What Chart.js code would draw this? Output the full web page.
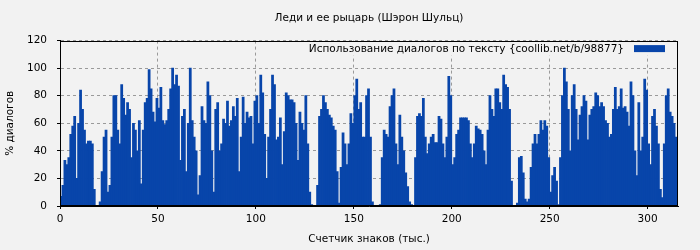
<!DOCTYPE html>
<html>
<head>
    <meta charset="utf-8">
    <title>Леди и ее рыцарь (Шэрон Шульц)</title>
    <script src="https://cdn.jsdelivr.net/npm/chart.js"></script>
    <style>
        body { margin: 0; background: #f2f2f2; }
    </style>
</head>
<body>
    <canvas id="dialogChart" width="700" height="250"></canvas>
    <script>
    // % of dialogue in each block of 1000 characters
    const dialogPct = [
        7, 15, 33, 30, 35, 52, 58, 65, 20, 60, 84, 70, 55, 45, 47, 47, 45, 12, 0, 0,
        3, 25, 50, 55, 10, 15, 50, 80, 80, 55, 45, 88, 78, 66, 75, 70, 35, 60, 55, 40,
        62, 16, 55, 75, 78, 99, 85, 68, 61, 78, 71, 86, 62, 59, 62, 70, 85, 100, 88, 95,
        87, 33, 65, 70, 25, 60, 100, 62, 50, 40, 8, 22, 72, 62, 60, 90, 80, 40, 10, 70,
        75, 40, 45, 63, 60, 76, 58, 62, 72, 65, 78, 25, 50, 79, 60, 68, 64, 65, 45, 76,
        80, 60, 95, 82, 52, 20, 50, 70, 95, 88, 48, 50, 64, 30, 54, 82, 80, 77, 77, 75,
        60, 33, 68, 60, 55, 80, 45, 10, 1, 0, 0, 15, 65, 70, 80, 75, 70, 66, 64, 58,
        55, 25, 2, 28, 53, 45, 30, 45, 67, 60, 80, 92, 70, 75, 50, 50, 80, 85, 50, 3,
        0, 0, 0, 1, 35, 55, 52, 50, 72, 80, 85, 45, 30, 66, 50, 40, 24, 14, 3, 1,
        0, 35, 65, 67, 65, 78, 50, 38, 45, 50, 52, 46, 46, 65, 63, 45, 35, 50, 94, 80,
        30, 35, 52, 55, 64, 64, 64, 64, 62, 45, 35, 45, 58, 56, 55, 52, 40, 30, 55, 80,
        70, 65, 85, 85, 75, 70, 95, 88, 86, 70, 18, 0, 0, 2, 35, 36, 24, 5, 3, 5,
        28, 45, 52, 45, 52, 62, 55, 62, 58, 35, 10, 22, 28, 18, 1, 35, 80, 100, 90, 70,
        40, 80, 88, 70, 48, 66, 72, 80, 76, 48, 66, 70, 72, 82, 80, 72, 75, 72, 62, 60,
        50, 52, 70, 86, 70, 72, 85, 71, 72, 68, 58, 90, 80, 40, 22, 75, 40, 50, 92, 84,
        45, 30, 65, 70, 58, 45, 12, 6, 45, 80, 85, 68, 65, 60, 50
    ];
    const xTicks = [0, 50, 100, 150, 200, 250, 300];
    const yTicks = [0, 20, 40, 60, 80, 100, 120];

    const chartTitle = 'Леди и ее рыцарь (Шэрон Шульц)';
    const seriesLabel = 'Использование диалогов по тексту {coollib.net/b/98877}';
    const xTitle = 'Счетчик знаков (тыс.)';
    const yTitle = '% диалогов';

    const BG = '#f2f2f2';
    const BAR = '#0845aa';
    const FONT = { family: '"DejaVu Sans", sans-serif', size: 10.5 };

    // bar i covers the i-th thousand characters
    const points = dialogPct.map((v, i) => ({ x: i + 0.5, y: v }));

    const bgPlugin = {
        id: 'bg',
        beforeDraw(chart) {
            const ctx = chart.ctx;
            ctx.save();
            ctx.fillStyle = BG;
            ctx.fillRect(0, 0, chart.width, chart.height);
            ctx.restore();
        }
    };

    // frame round the plot and the legend sitting inside it, top right
    const framePlugin = {
        id: 'frame',
        afterDraw(chart) {
            const ctx = chart.ctx;
            const a = chart.chartArea;
            ctx.save();

            ctx.font = FONT.size + 'px ' + FONT.family;
            const label = chart.data.datasets[0].label;
            const boxW = 31, boxH = 7;
            const boxX = a.right - 13 - boxW;
            const boxY = a.top + 4.5;
            const textW = ctx.measureText(label).width;
            const textX = boxX - 10 - textW;

            ctx.fillStyle = BG;
            ctx.fillRect(textX - 4, a.top + 1, boxX + boxW + 4 - (textX - 4), 14);

            ctx.fillStyle = '#000';
            ctx.textBaseline = 'alphabetic';
            ctx.fillText(label, textX, a.top + 11);
            ctx.fillStyle = BAR;
            ctx.fillRect(boxX, boxY, boxW, boxH);

            ctx.strokeStyle = '#000';
            ctx.lineWidth = 1;
            ctx.strokeRect(Math.round(a.left) + 0.5, Math.round(a.top) + 0.5,
                Math.round(a.right - a.left) - 1, Math.round(a.bottom - a.top) - 1);
            ctx.restore();
        }
    };

    const ctx = document.getElementById('dialogChart').getContext('2d');
    const chart = new Chart(ctx, {
        type: 'bar',
        data: {
            datasets: [{
                label: seriesLabel,
                data: points,
                backgroundColor: BAR,
                borderWidth: 0,
                barPercentage: 1,
                categoryPercentage: 1,
                inflateAmount: 0.4
            }]
        },
        options: {
            responsive: false,
            animation: false,
            devicePixelRatio: 1,
            layout: { padding: { left: 0, right: 22, top: 0, bottom: 0 } },
            scales: {
                x: {
                    type: 'linear',
                    offset: false,
                    min: 0,
                    max: 315.5,
                    afterFit(scale) { scale.height = 44; },
                    afterBuildTicks(scale) {
                        scale.ticks = xTicks.map(v => ({ value: v }));
                    },
                    ticks: {
                        font: FONT,
                        color: '#000',
                        padding: 4,
                        maxRotation: 0,
                        autoSkip: false
                    },
                    grid: {
                        offset: false,
                        color: '#9a9a9a',
                        tickColor: '#000',
                        tickLength: 3,
                        tickBorderDash: []
                    },
                    border: { color: '#000', dash: [3, 3] },
                    title: {
                        display: true,
                        text: xTitle,
                        font: FONT,
                        color: '#000',
                        padding: { top: 4, bottom: 4 }
                    }
                },
                y: {
                    min: 0,
                    max: 120,
                    afterFit(scale) { scale.width = 60; },
                    afterBuildTicks(scale) {
                        scale.ticks = yTicks.map(v => ({ value: v }));
                    },
                    ticks: {
                        font: FONT,
                        color: '#000',
                        padding: 10
                    },
                    grid: {
                        color: '#9a9a9a',
                        tickColor: '#000',
                        tickLength: 3,
                        tickBorderDash: []
                    },
                    border: { color: '#000', dash: [3, 3] },
                    title: {
                        display: true,
                        text: yTitle,
                        font: FONT,
                        color: '#000',
                        padding: { top: 4, bottom: 4 }
                    }
                }
            },
            plugins: {
                legend: { display: false },
                tooltip: { enabled: false },
                title: {
                    display: true,
                    text: chartTitle,
                    fullSize: false,
                    font: { family: FONT.family, size: 10.5, weight: 'normal' },
                    color: '#000',
                    padding: { top: 12, bottom: 16 }
                }
            }
        },
        plugins: [bgPlugin, framePlugin]
    });
    </script>
</body>
</html>
